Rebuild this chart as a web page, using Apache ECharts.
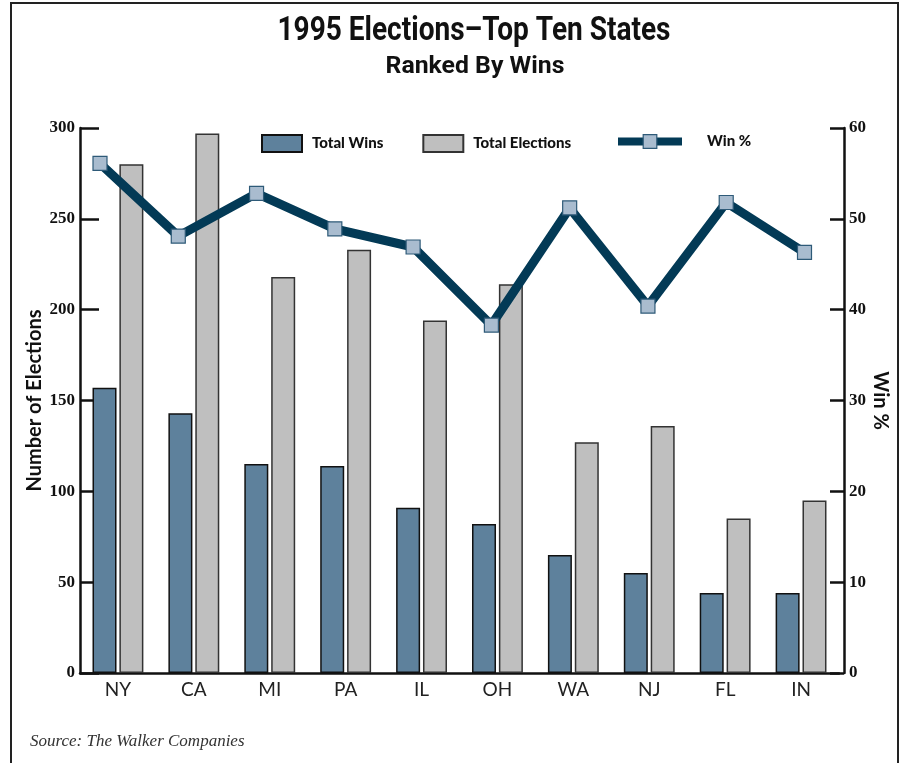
<!DOCTYPE html>
<html>
<head>
<meta charset="utf-8">
<script src="https://cdn.jsdelivr.net/npm/echarts@6/dist/echarts.min.js"></script>
<style>
  html, body { margin: 0; padding: 0; background: #fff; }
  #chart { width: 901px; height: 763px; }
</style>
</head>
<body>
<div id="chart"></div>
<script>
// 1995 election results for the ten states with the most wins
const states = ['NY', 'CA', 'MI', 'PA', 'IL', 'OH', 'WA', 'NJ', 'FL', 'IN'];
const totalWins = [157, 143, 115, 114, 91, 82, 65, 55, 44, 44];
const totalElections = [280, 297, 218, 233, 194, 214, 127, 136, 85, 95];
const winPct = [56.1, 48.1, 52.8, 48.9, 46.9, 38.3, 51.2, 40.4, 51.8, 46.3];

const countTicks = [0, 50, 100, 150, 200, 250, 300];
const pctTicks = [0, 10, 20, 30, 40, 50, 60];

const titleText = '1995 Elections\u2013Top Ten States';
const subtitleText = 'Ranked By Wins';
const sourceText = 'Source: The Walker Companies';

// Horizontal squeeze that makes a bold sans run read as a condensed face
function condense(text, font, targetWidth) {
  const ctx = document.createElement('canvas').getContext('2d');
  ctx.font = font;
  return targetWidth / ctx.measureText(text).width;
}

const titleFont = 'bold 33px Roboto';
const subtitleFont = 'bold 24px Roboto';

const chart = echarts.init(document.getElementById('chart'), null, { renderer: 'canvas' });

const tickFont = { fontFamily: 'Liberation Serif', fontWeight: 'bold', fontSize: 17, color: '#111' };
const nameFont = { fontFamily: 'Lato', fontWeight: 'bold', fontSize: 20, color: '#111' };
const legendFont = { fontFamily: 'Lato', fontWeight: 900, fontSize: 15, color: '#111' };

const plotTop = 128, plotBottom = 90;

chart.setOption({
  animation: false,
  backgroundColor: '#fff',
  legend: [
    {
      data: ['Total Wins', 'Total Elections'],
      left: 261, top: 134, padding: 0,
      icon: 'rect',
      itemWidth: 40, itemHeight: 17, itemGap: 39,
      textStyle: Object.assign({ padding: [0, 0, 0, 5] }, legendFont)
    },
    {
      data: [{ name: 'Win %' }],
      left: 614, top: 134, padding: 0,
      itemWidth: 64, itemHeight: 17,
      lineStyle: { width: 8, color: '#033a56' },
      itemStyle: { color: '#a9bccf', borderColor: '#2e5a78', borderWidth: 1.2 },
      textStyle: Object.assign({ padding: [0, 0, 0, 20] }, legendFont)
    }
  ],
  graphic: [
    {
      type: 'rect',
      shape: { x: 11, y: 3, width: 887, height: 800 },
      style: { fill: 'none', stroke: '#222', lineWidth: 2 },
      silent: true
    },
    {
      type: 'text',
      x: 474, y: 48,
      scaleX: condense(titleText, titleFont, 393),
      style: { text: titleText, font: titleFont, fill: '#111', textAlign: 'center', textVerticalAlign: 'bottom' }
    },
    {
      type: 'text',
      x: 475, y: 79,
      scaleX: condense(subtitleText, subtitleFont, 179),
      style: { text: subtitleText, font: subtitleFont, fill: '#111', textAlign: 'center', textVerticalAlign: 'bottom' }
    },
    {
      type: 'text',
      left: 30, top: 733,
      style: {
        text: sourceText,
        font: 'italic 17px "Liberation Serif"',
        fill: '#333'
      }
    }
  ],
  grid: [
    // bar plot; the right-hand axis sits a few pixels past the last category band
    { left: 80, right: 62, top: plotTop, bottom: plotBottom, outerBoundsMode: 'none', containLabel: false },
    // line overlay, points spread between the first and last marker positions
    { left: 100, right: 96.5, top: plotTop, bottom: plotBottom, outerBoundsMode: 'none', containLabel: false }
  ],
  xAxis: [
    {
      type: 'category', gridIndex: 0, data: states,
      axisLine: { lineStyle: { color: '#111', width: 2.5 } },
      axisTick: { show: false },
      axisLabel: { fontFamily: 'Lato', fontSize: 19, color: '#222', margin: 7 }
    },
    {
      type: 'category', gridIndex: 1, data: states, boundaryGap: false, show: false
    }
  ],
  yAxis: [
    {
      type: 'value', gridIndex: 0, position: 'left',
      min: countTicks[0], max: countTicks[countTicks.length - 1], interval: 50,
      name: 'Number of Elections', nameLocation: 'middle', nameGap: 35, nameRotate: 90,
      nameMoveOverlap: false,
      nameTextStyle: nameFont,
      axisLine: { show: true, lineStyle: { color: '#111', width: 2.5 } },
      axisTick: { show: true, inside: true, length: 19, lineStyle: { color: '#111', width: 2.5 } },
      axisLabel: Object.assign({ margin: 5 }, tickFont),
      splitLine: { show: false }
    },
    {
      type: 'value', gridIndex: 0, position: 'right', offset: 5,
      min: pctTicks[0], max: pctTicks[pctTicks.length - 1], interval: 10,
      name: 'Win %', nameLocation: 'middle', nameGap: 26, nameRotate: -90,
      nameMoveOverlap: false,
      nameTextStyle: nameFont,
      axisLine: { show: true, lineStyle: { color: '#111', width: 2.5 } },
      axisTick: { show: true, inside: true, length: 14, lineStyle: { color: '#111', width: 2.5 } },
      axisLabel: Object.assign({ margin: 5 }, tickFont),
      splitLine: { show: false }
    },
    {
      type: 'value', gridIndex: 1, min: 0, max: 60, show: false
    }
  ],
  series: [
    {
      name: 'Total Wins', type: 'bar', xAxisIndex: 0, yAxisIndex: 0,
      data: totalWins, barWidth: 24, barGap: '12%',
      itemStyle: { color: '#5e819c', borderColor: '#111', borderWidth: 1.5 }
    },
    {
      name: 'Total Elections', type: 'bar', xAxisIndex: 0, yAxisIndex: 0,
      data: totalElections, barWidth: 24,
      itemStyle: { color: '#bfbfbf', borderColor: '#333', borderWidth: 1.5 }
    },
    {
      name: 'Win %', type: 'line', xAxisIndex: 1, yAxisIndex: 2,
      data: winPct,
      symbol: 'rect', symbolSize: 14,
      lineStyle: { color: '#033a56', width: 9, join: 'round' },
      itemStyle: { color: '#a9bccf', borderColor: '#2e5a78', borderWidth: 1.2 },
      z: 5
    }
  ]
});
</script>
</body>
</html>
